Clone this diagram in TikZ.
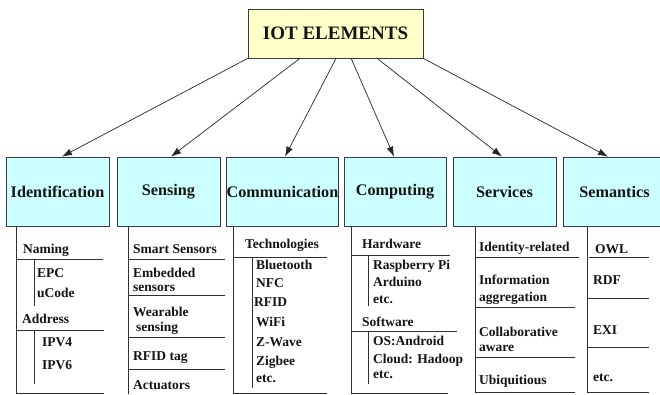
\documentclass[tikz,border=0pt]{standalone}
\usepackage{fontspec}
\setmainfont{Liberation Serif}
\usetikzlibrary{arrows.meta,calc}
\definecolor{topfill}{HTML}{FFFFC8}
\definecolor{catfill}{HTML}{CCFFFF}
\definecolor{bord}{HTML}{3A3A3A}
\definecolor{lin}{HTML}{303030}
\definecolor{txt}{HTML}{141414}
\tikzset{
  topbox/.style={draw=bord, fill=topfill, line width=0.8pt, inner sep=0pt,
    minimum width=175pt, minimum height=49pt, text=txt,
    font=\fontsize{19}{22}\selectfont\bfseries},
  catbox/.style={draw=bord, fill=catfill, line width=0.8pt, inner sep=0pt,
    minimum height=69pt, text=txt,
    font=\fontsize{16.2}{18}\selectfont\bfseries},
  itm/.style={anchor=base west, inner sep=0pt, text=txt,
    font=\fontsize{13.5}{15}\selectfont\bfseries},
  ln/.style={draw=lin, line width=0.9pt},
  arr/.style={draw=black!85, line width=0.7pt, -{Latex[length=10pt,width=7pt]}}
}
\begin{document}
\begin{tikzpicture}[x=1pt,y=-1pt]
\useasboundingbox[fill=white] (0,0) rectangle (660,394);

% top box
\node[topbox] (top) at (335.5,33.5) {IOT ELEMENTS};

% category boxes
\node[catbox, minimum width=103pt] (idn) at (57.5,191.5) {Identification};
\node[catbox, minimum width=103pt] (sen) at (168.5,191.5) {Sensing};
\node[catbox, minimum width=111pt] (com) at (282.5,191.5) {Communication};
\node[catbox, minimum width=102pt] (cmp) at (395,191.5) {Computing};
\node[catbox, minimum width=103pt] (ser) at (504.5,191.5) {Services};
\node[catbox, minimum width=103pt] (sem) at (614.5,191.5) {Semantics};

% arrows
\draw[arr] (top.south west) -- ([xshift=4.5pt]idn.north);
\draw[arr] ($(top.south west)!0.297!(top.south east)$) -- ([xshift=2.5pt]sen.north);
\draw[arr] ($(top.south west)!0.503!(top.south east)$) -- ([xshift=2.5pt]com.north);
\draw[arr] ($(top.south west)!0.589!(top.south east)$) -- ([xshift=-1pt]cmp.north);
\draw[arr] ($(top.south west)!0.737!(top.south east)$) -- ([xshift=-2.5pt]ser.north);
\draw[arr] (top.south east) -- ([xshift=-6.5pt]sem.north);

% Identification list
\draw[ln] (16,226) -- (16,393) -- (104,393);
\draw[ln] (17,259) -- (103,259);
\draw[ln] (34,259) -- (34,306);
\draw[ln] (16,330) -- (104,330);
\draw[ln] (34,330) -- (34,384);
\node[itm] (i1) at (23,253) {Naming};
\node[itm] (i2) at (37,277) {EPC};
\node[itm] (i3) at (37,297) {uCode};
\node[itm] (i4) at (22,323) {Address};
\node[itm] (i5) at (42,346) {IPV4};
\node[itm] (i6) at (42,369) {IPV6};

% Sensing list
\draw[ln] (128,226) -- (128,394);
\draw[ln] (128,259) -- (225,259);
\draw[ln] (128,295) -- (225,295);
\draw[ln] (128,337) -- (225,337);
\draw[ln] (128,369) -- (225,369);
\node[itm] (s1) at (133,253) {Smart Sensors};
\node[itm] (s2) at (133,277) {Embedded};
\node[itm] (s3) at (133,291) {sensors};
\node[itm] (s4) at (133,316) {Wearable};
\node[itm] (s5) at (136,331) {sensing};
\node[itm] (s6) at (133,360) {RFID tag};
\node[itm] (s7) at (133,389) {Actuators};

% Communication list
\draw[ln] (233,226) -- (233,393) -- (327,393);
\draw[ln] (233,257) -- (327,257);
\draw[ln] (252,257) -- (252,388);
\node[itm] (c1) at (245,248) {Technologies};
\node[itm] (c2) at (256,269) {Bluetooth};
\node[itm] (c3) at (256,287) {NFC};
\node[itm] (c4) at (254,306) {RFID};
\node[itm] (c5) at (256,326) {WiFi};
\node[itm] (c6) at (256,346) {Z-Wave};
\node[itm] (c7) at (256,365) {Zigbee};
\node[itm] (c8) at (256,382) {etc.};

% Computing list
\draw[ln] (351,226) -- (351,393) -- (448,393);
\draw[ln] (351,255) -- (450,255);
\draw[ln] (368,255) -- (368,306);
\draw[ln] (351,331) -- (457,331);
\draw[ln] (368,331) -- (368,384);
\node[itm] (p1) at (362,248) {Hardware};
\node[itm] (p2) at (373,269) {Raspberry Pi};
\node[itm] (p3) at (373,286) {Arduino};
\node[itm] (p4) at (373,303) {etc.};
\node[itm] (p5) at (362,326) {Software};
\node[itm] (p6) at (373,345) {OS:Android};
\node[itm] (p7) at (373,363) {Cloud: Hadoop};
\node[itm] (p8) at (373,378) {etc.};

% Services list
\draw[ln] (475,226) -- (475,392) -- (575,392);
\draw[ln] (475,257) -- (579,257);
\draw[ln] (475,307) -- (575,307);
\draw[ln] (475,357) -- (575,357);
\node[itm] (v1) at (479,251) {Identity-related};
\node[itm] (v2) at (479,284) {Information};
\node[itm] (v3) at (479,301) {aggregation};
\node[itm] (v4) at (479,336) {Collaborative};
\node[itm] (v5) at (479,351) {aware};
\node[itm] (v6) at (479,384) {Ubiquitious};

% Semantics list
\draw[ln] (587,226) -- (587,392) -- (649,392);
\draw[ln] (589,257) -- (649,257);
\draw[ln] (587,298) -- (649,298);
\draw[ln] (587,347) -- (649,347);
\node[itm] (m1) at (595,253) {OWL};
\node[itm] (m2) at (593,284) {RDF};
\node[itm] (m3) at (593,334) {EXI};
\node[itm] (m4) at (593,381) {etc.};
\end{tikzpicture}
\end{document}
